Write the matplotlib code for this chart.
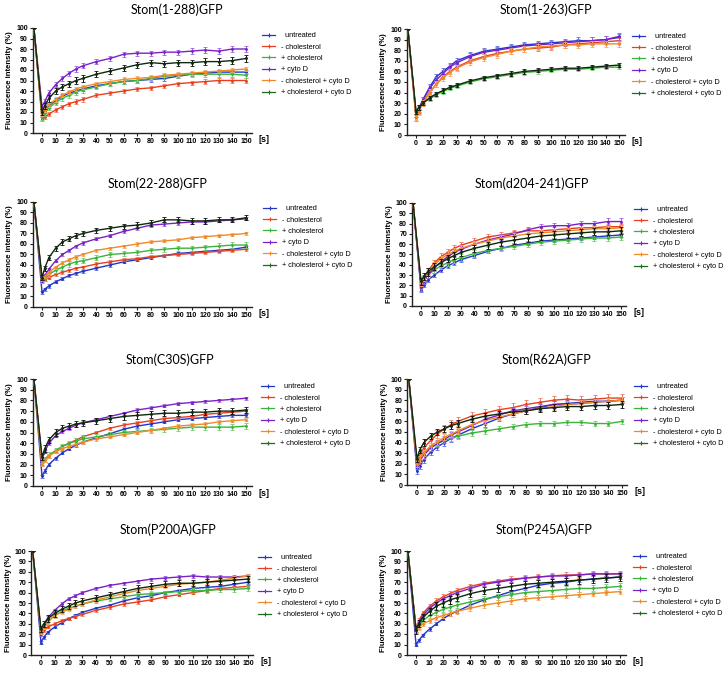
import matplotlib
matplotlib.use('Agg')
import matplotlib.pyplot as plt
from matplotlib.lines import Line2D

# ---------------- data ----------------
TIME = [0, 2, 5, 10, 15, 20, 25, 30, 40, 50, 60, 70, 80, 90, 100, 110, 120, 130, 140, 150]
PRE_T = -6
PRE_V = 100

TITLES = ['Stom(1-288)GFP', 'Stom(1-263)GFP', 'Stom(22-288)GFP', 'Stom(d204-241)GFP',
          'Stom(C30S)GFP', 'Stom(R62A)GFP', 'Stom(P200A)GFP', 'Stom(P245A)GFP']
LABELS = ['  untreated', '- cholesterol', '+ cholesterol', '+ cyto D',
          '- cholesterol + cyto D', '+ cholesterol + cyto D']
X_TICKS = list(range(0, 151, 10))
Y_TICKS = list(range(0, 101, 10))

# Stom(1-288)GFP
a1_unt = [17, 21, 26, 31, 35, 38, 40, 42, 45, 47, 49, 50, 51, 52, 54, 56, 57, 58, 58, 58]
a1_mch = [13, 15, 18, 22, 25, 28, 30, 32, 36, 38, 40, 42, 43, 45, 47, 48, 49, 50, 50, 50]
a1_pch = [15, 19, 24, 29, 33, 36, 39, 41, 44, 47, 49, 50, 52, 54, 55, 56, 56, 56, 56, 55]
a1_cyd = [25, 30, 38, 46, 52, 57, 61, 64, 68, 71, 75, 76, 76, 77, 77, 78, 79, 78, 80, 80]
a1_mcc = [18, 22, 27, 32, 36, 39, 42, 44, 47, 49, 51, 52, 53, 55, 56, 57, 58, 59, 60, 61]
a1_pcc = [20, 26, 33, 40, 44, 47, 50, 52, 56, 59, 62, 65, 67, 66, 67, 67, 68, 68, 69, 71]
# Stom(1-263)GFP
a2_unt = [20, 25, 33, 45, 55, 60, 65, 70, 75, 79, 81, 83, 85, 86, 87, 88, 89, 89, 90, 92]
a2_mch = [16, 22, 30, 40, 48, 55, 60, 64, 70, 74, 77, 79, 81, 82, 83, 85, 86, 87, 88, 89]
a2_pch = [22, 26, 30, 34, 38, 41, 44, 46, 50, 53, 55, 57, 59, 60, 61, 62, 62, 63, 64, 64]
a2_cyd = [20, 24, 32, 44, 52, 58, 64, 68, 74, 78, 80, 82, 84, 85, 86, 87, 88, 89, 90, 93]
a2_mcc = [17, 22, 30, 40, 48, 54, 59, 63, 69, 73, 76, 79, 81, 83, 84, 85, 85, 86, 86, 86]
a2_pcc = [22, 26, 30, 35, 39, 42, 45, 47, 51, 54, 56, 58, 60, 61, 62, 63, 63, 64, 65, 66]
# Stom(22-288)GFP
a3_unt = [14, 17, 20, 24, 27, 30, 32, 34, 37, 40, 43, 45, 47, 49, 51, 52, 53, 54, 55, 57]
a3_mch = [24, 26, 28, 31, 33, 35, 37, 38, 41, 43, 45, 46, 48, 49, 50, 51, 52, 53, 54, 55]
a3_pch = [25, 27, 31, 35, 38, 41, 43, 44, 47, 50, 51, 52, 54, 55, 56, 56, 57, 58, 59, 59]
a3_cyd = [25, 30, 36, 44, 50, 54, 58, 61, 65, 68, 72, 75, 78, 79, 80, 81, 81, 82, 83, 84]
a3_mcc = [26, 29, 33, 38, 42, 45, 48, 50, 54, 56, 58, 60, 62, 63, 64, 66, 67, 68, 69, 70]
a3_pcc = [28, 37, 47, 56, 62, 65, 68, 70, 73, 75, 77, 78, 80, 83, 83, 82, 82, 83, 83, 85]
# Stom(d204-241)GFP
a4_unt = [16, 20, 25, 30, 35, 39, 42, 45, 49, 53, 56, 59, 61, 63, 64, 65, 66, 67, 68, 69]
a4_mch = [20, 27, 34, 42, 48, 52, 56, 59, 63, 67, 69, 71, 73, 73, 74, 75, 76, 76, 77, 77]
a4_pch = [22, 26, 30, 35, 39, 42, 45, 47, 51, 54, 56, 58, 60, 62, 63, 64, 65, 66, 66, 67]
a4_cyd = [18, 24, 30, 37, 43, 48, 52, 55, 60, 64, 67, 70, 74, 77, 78, 78, 80, 80, 82, 82]
a4_mcc = [22, 27, 33, 40, 46, 50, 53, 56, 60, 63, 66, 68, 70, 71, 72, 73, 74, 75, 75, 76]
a4_pcc = [24, 29, 33, 38, 42, 46, 49, 52, 56, 59, 62, 64, 66, 68, 69, 70, 71, 72, 72, 73]
# Stom(C30S)GFP
a5_unt = [9, 14, 20, 26, 31, 35, 38, 41, 45, 49, 53, 56, 58, 60, 62, 63, 64, 65, 66, 66]
a5_mch = [20, 24, 28, 33, 37, 40, 43, 46, 50, 54, 57, 59, 61, 63, 64, 65, 67, 68, 69, 70]
a5_pch = [22, 25, 29, 33, 37, 40, 42, 44, 46, 48, 50, 51, 52, 53, 54, 55, 55, 55, 55, 56]
a5_cyd = [25, 32, 40, 47, 51, 54, 57, 59, 62, 65, 68, 71, 73, 75, 77, 78, 79, 80, 81, 82]
a5_mcc = [20, 24, 28, 32, 35, 37, 39, 41, 44, 46, 48, 50, 52, 54, 56, 57, 58, 60, 61, 62]
a5_pcc = [27, 35, 43, 50, 54, 56, 58, 59, 61, 63, 65, 66, 67, 68, 68, 69, 69, 70, 70, 71]
# Stom(R62A)GFP
a6_unt = [13, 18, 24, 31, 36, 40, 44, 47, 53, 58, 63, 67, 70, 73, 76, 77, 78, 79, 79, 80]
a6_mch = [22, 28, 35, 42, 48, 53, 57, 60, 65, 68, 71, 73, 76, 78, 80, 81, 80, 81, 82, 82]
a6_pch = [20, 25, 30, 35, 39, 42, 44, 46, 49, 51, 53, 55, 57, 58, 58, 59, 59, 58, 58, 60]
a6_cyd = [18, 23, 28, 35, 39, 43, 47, 50, 56, 62, 66, 70, 72, 74, 76, 76, 77, 78, 79, 80]
a6_mcc = [20, 25, 30, 37, 41, 45, 48, 51, 57, 61, 64, 67, 70, 72, 74, 76, 77, 78, 79, 80]
a6_pcc = [25, 33, 40, 46, 50, 53, 56, 58, 62, 65, 67, 69, 70, 72, 73, 74, 74, 75, 75, 76]
# Stom(P200A)GFP
a7_unt = [12, 17, 22, 27, 31, 35, 38, 41, 45, 48, 52, 55, 57, 60, 62, 64, 65, 66, 68, 70]
a7_mch = [22, 24, 27, 30, 33, 35, 37, 39, 43, 46, 49, 51, 53, 56, 58, 60, 62, 64, 65, 66]
a7_pch = [22, 27, 32, 38, 42, 45, 47, 49, 52, 54, 56, 58, 59, 60, 61, 62, 62, 63, 63, 64]
a7_cyd = [20, 28, 36, 43, 49, 54, 57, 60, 64, 67, 69, 71, 73, 74, 75, 76, 75, 75, 75, 76]
a7_mcc = [22, 27, 32, 38, 41, 44, 47, 49, 53, 56, 59, 62, 64, 66, 68, 69, 70, 72, 74, 76]
a7_pcc = [25, 30, 35, 40, 44, 47, 50, 52, 55, 58, 61, 64, 66, 68, 69, 69, 70, 71, 72, 73]
# Stom(P245A)GFP
a8_unt = [10, 14, 19, 25, 30, 35, 39, 42, 48, 53, 57, 61, 64, 67, 69, 70, 72, 73, 74, 75]
a8_mch = [25, 33, 40, 47, 52, 56, 59, 62, 66, 69, 71, 73, 74, 75, 76, 77, 77, 78, 78, 78]
a8_pch = [24, 28, 33, 38, 41, 44, 46, 48, 51, 54, 56, 58, 60, 61, 62, 63, 64, 64, 65, 66]
a8_cyd = [24, 31, 38, 45, 50, 54, 57, 60, 64, 68, 70, 72, 74, 75, 76, 76, 77, 78, 78, 78]
a8_mcc = [25, 27, 30, 33, 36, 38, 40, 42, 45, 48, 50, 52, 54, 55, 56, 57, 58, 59, 60, 61]
a8_pcc = [24, 30, 36, 42, 47, 50, 53, 55, 59, 62, 64, 66, 68, 69, 70, 71, 72, 73, 74, 75]

# SEM per series (untreated, -chol, +chol, +cytoD, -chol+cytoD, +chol+cytoD)
e1 = [2.0, 2.0, 2.5, 2.5, 2.0, 3.0]
e2 = [3.0, 2.5, 2.0, 3.0, 3.0, 2.0]
e3 = [1.5, 1.5, 2.5, 1.5, 1.5, 2.5]
e4 = [2.0, 3.0, 3.0, 3.0, 3.0, 3.5]
e5 = [1.5, 1.5, 2.5, 1.5, 1.5, 3.0]
e6 = [3.0, 4.0, 2.5, 3.0, 3.0, 3.0]
e7 = [1.5, 1.5, 2.0, 1.5, 2.0, 3.0]
e8 = [1.5, 2.5, 3.0, 2.0, 2.5, 3.5]

PANELS = [
    [a1_unt, a1_mch, a1_pch, a1_cyd, a1_mcc, a1_pcc],
    [a2_unt, a2_mch, a2_pch, a2_cyd, a2_mcc, a2_pcc],
    [a3_unt, a3_mch, a3_pch, a3_cyd, a3_mcc, a3_pcc],
    [a4_unt, a4_mch, a4_pch, a4_cyd, a4_mcc, a4_pcc],
    [a5_unt, a5_mch, a5_pch, a5_cyd, a5_mcc, a5_pcc],
    [a6_unt, a6_mch, a6_pch, a6_cyd, a6_mcc, a6_pcc],
    [a7_unt, a7_mch, a7_pch, a7_cyd, a7_mcc, a7_pcc],
    [a8_unt, a8_mch, a8_pch, a8_cyd, a8_mcc, a8_pcc],
]
ERRS = [e1, e2, e3, e4, e5, e6, e7, e8]

# ---------------- style / layout ----------------
COLORS = ['#2236c8', '#e8401e', '#3cb43c', '#7a22c8', '#f08a28', '#1f6a1f']
ECOLORS = ['#6070e0', '#f07a5a', '#70cc70', '#a060e0', '#f5a860', '#111111']
LINECOL = ['#2236c8', '#e8401e', '#3cb43c', '#7a22c8', '#f08a28', '#0e2a0e']

W, H = 728, 673
# (left px, width px, top px (y=100), bottom px (y=0))
RECTS = [(32.5, 219, 28, 133), (406.5, 218, 29, 135),
         (32.5, 219, 202, 307), (411.7, 214.7, 203, 306),
         (32.5, 219, 379, 486), (407.4, 220, 379, 485),
         (31.3, 222.2, 551, 655), (406.5, 219, 551, 655)]
TITLE_POS = [(177, 10), (546, 10), (158, 184), (532, 184),
             (170, 360), (547, 360), (168, 530), (544, 530)]
# (handle left px, first-row centre px)
LEG_POS = [(262, 36), (632, 37), (263, 209), (634, 210),
           (261, 387), (634, 387), (258, 558), (633, 557)]

fig = plt.figure(figsize=(W / 100, H / 100), dpi=100)
fig.patch.set_facecolor('white')

for i in range(8):
    L, Wd, T, B = RECTS[i]
    ax = fig.add_axes([L / W, 1 - B / H, Wd / W, (B - T) / H])
    handles = []
    for j in range(6):
        xs = [PRE_T] + TIME
        ys = [PRE_V] + PANELS[i][j]
        es = [0] + [ERRS[i][j]] * len(TIME)
        ax.errorbar(xs, ys, yerr=es, color=LINECOL[j], ecolor=ECOLORS[j],
                    lw=1.0, elinewidth=0.7, capsize=1.2, capthick=0.6,
                    marker='.', ms=2.2, zorder=2 + j)
        handles.append(Line2D([0], [0], color=COLORS[j], lw=0.9, marker='+',
                              ms=2.5, mew=0.8))
    ax.set_xlim(-7, 154)
    ax.set_ylim(0, 100)
    ax.set_xticks(X_TICKS)
    ax.set_yticks(Y_TICKS)
    ax.tick_params(axis='both', labelsize=5, width=0.8, length=2.2, pad=1.2,
                   color='#222222')
    for lab in ax.get_xticklabels() + ax.get_yticklabels():
        lab.set_fontweight('bold')
        lab.set_family('Liberation Sans')
    for s in ['top', 'right']:
        ax.spines[s].set_visible(False)
    for s in ['left', 'bottom']:
        ax.spines[s].set_linewidth(1.0)
        ax.spines[s].set_color('#222222')
    ax.set_ylabel('Fluorescence intensity (%)', fontsize=5.6, fontweight='bold',
                  family='Liberation Sans', labelpad=2)
    ax.annotate('[s]', xy=(1, 0), xycoords='axes fraction', xytext=(7, -7),
                textcoords='offset pixels', fontsize=6.5, fontweight='bold',
                family='Liberation Sans', va='center', ha='left')
    cx, cy = TITLE_POS[i]
    fig.text(cx / W, 1 - cy / H, TITLES[i], ha='center', va='center',
             fontsize=9, family='Lato')
    lx, ly = LEG_POS[i]
    ax.legend(handles, LABELS, loc='upper left',
              bbox_to_anchor=(lx / W, 1 - (ly - 4) / H), bbox_transform=fig.transFigure,
              frameon=False, borderpad=0, borderaxespad=0,
              prop={'family': 'Liberation Sans', 'size': 5.3},
              handlelength=1.8, handletextpad=0.8, labelspacing=0.58)

fig.savefig('out.png', dpi=100, facecolor='white')
